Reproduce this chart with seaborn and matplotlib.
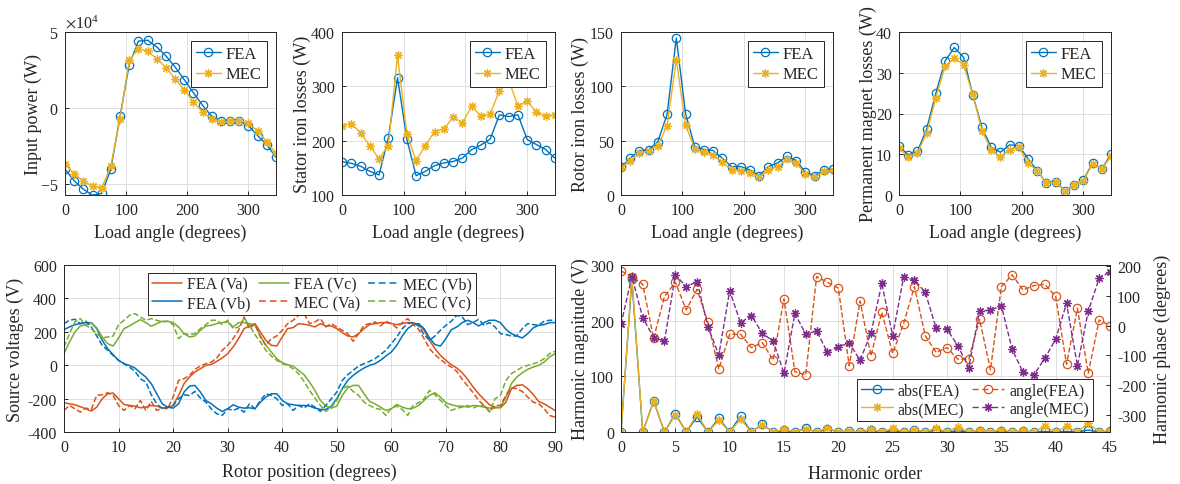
import numpy as np
import pandas as pd
import matplotlib
matplotlib.use("Agg")
import matplotlib.pyplot as plt
from matplotlib.lines import Line2D
import seaborn as sns

# ---------------------------------------------------------------- data
load_angle = np.arange(0, 346, 15)

input_power_fea = [-40000, -47700, -53200, -57100, -56000, -40000, -5300, 28600, 44000, 44600,
                   40200, 34300, 27000, 18700, 10100, 1800, -5300, -8600, -8600, -8100,
                   -11400, -18000, -24000, -32300]
input_power_mec = [-36700, -42900, -48100, -51000, -52300, -37800, -7000, 31400, 39100, 37400,
                   32500, 26600, 19300, 12100, 4000, -2600, -7000, -8800, -8600, -8100,
                   -9700, -15200, -22000, -29700]

stator_fea = [161.5, 158.4, 152.9, 143.6, 136.9, 205, 315.7, 203, 135.6, 143.6, 154, 159,
              161.5, 168, 183.6, 192, 203, 247.5, 244.4, 247.5, 202, 192.8, 183.6, 167.6]
stator_mec = [227.8, 231.5, 214.3, 191, 166.4, 191, 357, 212.5, 163.3, 191, 216.8, 221.7,
              243.2, 232.8, 263.5, 245, 249.4, 291.8, 312, 263.5, 272.7, 252.4, 245, 248]

rotor_fea = [25.5, 34.1, 40.9, 41.5, 49.2, 74.1, 144.4, 75, 44.6, 41.8, 40.9, 33.8,
             26.1, 26.1, 23, 17.8, 26.1, 29.5, 35.6, 31.7, 20.9, 17.8, 23, 24]
rotor_mec = [24.9, 31.7, 38.4, 40.9, 45.5, 63.9, 124.5, 64.5, 42.4, 39.3, 36.9, 30.1,
             23.4, 22.4, 20.3, 16.9, 23, 26.1, 33.2, 29.2, 19.4, 16.3, 21.8, 23]

magnet_fea = [12.1, 9.8, 10.7, 16.2, 25, 32.9, 36.2, 33.8, 24.6, 16.6, 11.7, 10.5,
              12.3, 12.1, 8.9, 6, 2.9, 3.3, 1, 2.5, 3.7, 7.8, 6.4, 10]
magnet_mec = [11.5, 9.3, 10.3, 15.2, 23.9, 31.6, 33.6, 32, 24.7, 15.8, 11.1, 9.4,
              11.1, 11.7, 7.8, 6, 2.9, 3.1, 1, 2.5, 3.5, 7.6, 6.4, 9.5]

rotor_position = np.arange(0, 91)

va_fea = [-225, -231, -237, -249, -261, -275, -251, -201, -171, -167, -201, -235, -241, -245, -255, -251,
          -241, -245, -255, -255, -241, -181, -111, -71, -41, -21, -1, 5, 23, 43, 69, 109, 159, 219, 235,
          249, 199, 149, 119, 115, 169, 219, 225, 249, 245, 239, 229, 249, 235, 235, 219, 195, 175, 169,
          189, 219, 243, 249, 255, 255, 249, 243, 249, 255, 255, 243, 209, 149, 99, 59, 29, 3, -17, -45,
          -85, -131, -171, -205, -237, -251, -255, -221, -141, -121, -117, -141, -175, -217, -231, -251,
          -271]
vb_fea = [213, 229, 243, 249, 255, 255, 219, 149, 99, 63, 29, 9, -1, -17, -45, -71, -111, -171, -231,
          -251, -257, -231, -161, -125, -121, -161, -211, -231, -257, -277, -261, -237, -251, -257, -255,
          -261, -221, -191, -171, -171, -211, -231, -237, -241, -241, -245, -257, -265, -265, -245, -201,
          -141, -91, -61, -37, -17, -1, 9, 29, 55, 79, 119, 175, 219, 243, 249, 219, 163, 123, 115, 159,
          213, 229, 255, 269, 255, 235, 255, 269, 269, 255, 215, 189, 175, 163, 189, 223, 239, 243, 255,
          255]
vc_fea = [69, 139, 199, 235, 243, 255, 223, 169, 129, 115, 163, 219, 235, 255, 273, 255, 233, 249, 263,
          263, 255, 229, 189, 169, 175, 209, 235, 239, 249, 255, 259, 229, 255, 255, 249, 239, 175, 119,
          79, 39, 15, 3, -5, -31, -57, -101, -151, -211, -245, -257, -245, -181, -137, -121, -121, -171,
          -217, -231, -251, -271, -261, -235, -251, -261, -257, -241, -211, -181, -165, -191, -225, -237,
          -245, -245, -251, -241, -245, -251, -257, -257, -251, -191, -111, -71, -45, -25, -11, -1, 19,
          49, 69]

va_mec = [-271, -241, -261, -281, -257, -265, -181, -177, -165, -181, -241, -271, -241, -261, -211, -271,
          -217, -271, -257, -261, -191, -91, -81, -61, -25, -5, 9, 19, 43, 89, 119, 159, 209, 289, 219,
          249, 169, 119, 159, 175, 209, 249, 269, 299, 309, 249, 259, 279, 229, 249, 229, 209, 189, 143,
          189, 239, 249, 259, 235, 263, 249, 223, 255, 279, 243, 215, 159, 99, 63, 35, 9, -11, -37, -85,
          -125, -165, -211, -241, -277, -241, -241, -181, -137, -141, -157, -191, -221, -231, -261, -301,
          -311]
vb_mec = [249, 269, 275, 249, 263, 229, 175, 119, 89, 59, 29, 9, -11, -37, -81, -101, -177, -231, -261,
          -251, -241, -201, -177, -181, -157, -197, -221, -261, -291, -301, -261, -271, -257, -281, -231,
          -261, -211, -171, -181, -201, -241, -231, -271, -241, -257, -231, -251, -277, -241, -201, -161,
          -91, -57, -31, -5, 9, 23, 39, 63, 89, 129, 169, 219, 249, 255, 235, 183, 149, 175, 209, 239,
          263, 299, 289, 243, 255, 275, 239, 255, 229, 189, 183, 175, 175, 219, 249, 243, 239, 263, 269,
          269]
vc_mec = [109, 189, 259, 279, 239, 219, 189, 163, 169, 175, 243, 269, 299, 309, 289, 269, 279, 269, 259,
          263, 243, 159, 189, 183, 189, 219, 243, 269, 269, 243, 269, 219, 229, 279, 239, 183, 139, 89,
          55, 29, 9, -1, -21, -51, -97, -151, -197, -241, -277, -251, -211, -141, -125, -157, -181, -221,
          -241, -257, -265, -301, -257, -245, -265, -301, -241, -225, -201, -151, -177, -211, -241, -271,
          -257, -251, -241, -257, -241, -241, -281, -201, -181, -91, -51, -31, -11, -1, 9, 19, 39, 69,
          83]

harmonic_order = np.arange(0, 46)

abs_fea = [0, 274, 0, 56, 0, 33, 0, 27, 0, 24.5, 0, 28.7, 0, 14, 0, 3, 0, 6.5, 0, 6, 0, 1.5, 0, 4,
           0, 2, 0, 3, 0, 4, 0, 2, 0, 1, 0, 1.5, 0, 1, 0, 1, 0, 1, 0, 3.5, 0, 1]
abs_mec = [0, 280, 0, 55, 0, 30.5, 0, 32, 0, 21, 0, 23, 0, 13, 0, 4.5, 0, 6, 0, 7, 0, 2.5, 0, 5,
           0, 6.5, 0, 4, 0, 7, 0, 9.5, 0, 3, 0, 4, 0, 3, 0, 11, 0, 10, 0, 16, 0, 3]
angle_fea = [184, 165, 139, -43, 98, 146, 53, 122, 11, -146, -29, -29, -74, -57, -116, 90,
             -155, -166, 165, 146, 126, -135, 83, -102, 45, -93, 6, 131, -34, -90, -74, -113,
             -113, 21, -149, 131, 171, 120, 135, 139, 98, -130, 58, -160, 19, 0]
angle_mec = [4.5, 165, 27, -40, -52, 171, 131, 148, -3, -99, 117, 10, 34, -26, -52, -160,
             41, -29, -18, -90, -71, -59, -116, -26, 142, -34, 162, 154, 112, -9, -12, -68,
             -141, 49, 52, 67, -80, -157, -166, -110, -46, 75, -135, 49, 159, 182]

# ---------------------------------------------------------------- style
BLUE, ORANGE, YELLOW, PURPLE, GREEN = "#0072BD", "#D95319", "#EDB120", "#7E2F8E", "#77AC30"
INK = "#262626"
ASTERISK = (8, 2, 0)
MS = 6.0
MEW = 0.9

sns.set_theme(style="whitegrid")
plt.rcParams.update({
    "font.family": ["Liberation Serif", "DejaVu Serif"],
    "mathtext.fontset": "stix",
    "axes.unicode_minus": False,
    "axes.edgecolor": INK,
    "axes.linewidth": 0.7,
    "axes.labelcolor": INK,
    "axes.labelsize": 13,
    "grid.color": "#dedede",
    "grid.linewidth": 0.7,
    "xtick.color": INK, "ytick.color": INK,
    "xtick.labelsize": 11.5, "ytick.labelsize": 11.5,
    "xtick.direction": "in", "ytick.direction": "in",
    "xtick.major.size": 3, "ytick.major.size": 3,
    "xtick.major.width": 0.7, "ytick.major.width": 0.7,
    "xtick.major.pad": 5, "ytick.major.pad": 5,
    "xtick.bottom": True, "ytick.left": True,
    "legend.fontsize": 12,
})

W, H = 1180, 485
fig = plt.figure(figsize=(W / 100, H / 100), dpi=100)


def add_axes(l, t, r, b):
    return fig.add_axes([l / W, 1 - b / H, (r - l) / W, (b - t) / H])


def boxed_legend(ax, handles, **kw):
    leg = ax.legend(handles=handles, fancybox=False, framealpha=1, edgecolor=INK,
                    **kw)
    leg.get_frame().set_linewidth(0.7)
    for t in leg.get_texts():
        t.set_color(INK)
    return leg


def comparison_panel(ax, fea, mec, ylabel, ylim, yticks, ylab_x):
    sns.lineplot(x=load_angle, y=fea, ax=ax, color=BLUE, lw=1.0, marker="o", ms=MS,
                 markerfacecolor="none", markeredgecolor=BLUE, markeredgewidth=MEW)
    sns.lineplot(x=load_angle, y=mec, ax=ax, color=YELLOW, lw=1.0, marker=ASTERISK, ms=MS,
                 markeredgecolor=YELLOW, markeredgewidth=MEW)
    ax.set_xlim(0, 345)
    ax.set_xticks([0, 100, 200, 300])
    ax.set_ylim(*ylim)
    ax.set_yticks(yticks)
    ax.set_xlabel("Load angle (degrees)")
    ax.set_ylabel(ylabel)
    ax.xaxis.set_label_coords(0.5, -0.175)
    ax.yaxis.set_label_coords(ylab_x, 0.5)
    handles = [
        Line2D([], [], color=BLUE, lw=1.0, marker="o", ms=MS, mfc="none", mec=BLUE, mew=MEW,
               label="FEA"),
        Line2D([], [], color=YELLOW, lw=1.0, marker=ASTERISK, ms=MS, mec=YELLOW, mew=MEW,
               label="MEC"),
    ]
    boxed_legend(ax, handles, loc="upper right", handlelength=1.5, handletextpad=0.3,
                 borderpad=0.3, labelspacing=0.25, borderaxespad=0.55)


# ---------------------------------------------------------------- top row
ax1 = add_axes(65, 33, 276, 196)
comparison_panel(ax1, input_power_fea, input_power_mec, "Input power (W)",
                 (-57000, 50000), [-50000, 0, 50000], -0.109)
ax1.ticklabel_format(axis="y", style="sci", scilimits=(0, 0), useMathText=True)
ax1.yaxis.get_offset_text().set_fontsize(11.5)

ax2 = add_axes(342, 33, 555, 196)
comparison_panel(ax2, stator_fea, stator_mec, "Stator iron losses (W)",
                 (100, 400), [100, 200, 300, 400], -0.146)

ax3 = add_axes(621, 33, 833, 196)
comparison_panel(ax3, rotor_fea, rotor_mec, "Rotor iron losses (W)",
                 (0, 150), [0, 50, 100, 150], -0.151)

ax4 = add_axes(899, 33, 1111, 196)
comparison_panel(ax4, magnet_fea, magnet_mec, "Permanent magnet losses (W)",
                 (0, 40), [0, 10, 20, 30, 40], -0.104)

# ---------------------------------------------------------------- source voltages
ax5 = add_axes(64, 266, 555, 433)
DASH = (4.5, 2.5)
series = [
    ("FEA (Va)", va_fea, ORANGE, "-"),
    ("FEA (Vb)", vb_fea, BLUE, "-"),
    ("FEA (Vc)", vc_fea, GREEN, "-"),
    ("MEC (Va)", va_mec, ORANGE, "--"),
    ("MEC (Vb)", vb_mec, BLUE, "--"),
    ("MEC (Vc)", vc_mec, GREEN, "--"),
]
handles = []
for name, vals, col, ls in series:
    kw = dict(dashes=DASH) if ls == "--" else {}
    sns.lineplot(x=rotor_position, y=vals, ax=ax5, color=col, lw=1.1, linestyle=ls, **kw)
    handles.append(Line2D([], [], color=col, lw=1.1, linestyle=ls, label=name, **kw))
ax5.set_xlim(0, 90)
ax5.set_xticks(range(0, 91, 10))
ax5.set_ylim(-400, 600)
ax5.set_yticks(range(-400, 601, 200))
ax5.set_xlabel("Rotor position (degrees)")
ax5.set_ylabel("Source voltages (V)")
ax5.xaxis.set_label_coords(0.5, -0.185)
ax5.yaxis.set_label_coords(-0.081, 0.5)
boxed_legend(ax5, handles, loc="upper left", bbox_to_anchor=(0.171, 0.955), ncol=3,
             fontsize=11.5, handlelength=1.9, handletextpad=0.3, columnspacing=0.5,
             borderpad=0.25, labelspacing=0.15, borderaxespad=0)

# ---------------------------------------------------------------- harmonics
ax6 = add_axes(621, 266, 1110, 433)
ax6b = ax6.twinx()
sns.lineplot(x=harmonic_order, y=abs_fea, ax=ax6, color=BLUE, lw=1.0, marker="o", ms=MS,
             markerfacecolor="none", markeredgecolor=BLUE, markeredgewidth=MEW)
sns.lineplot(x=harmonic_order, y=abs_mec, ax=ax6, color=YELLOW, lw=1.0, marker=ASTERISK, ms=MS,
             markeredgecolor=YELLOW, markeredgewidth=MEW)
sns.lineplot(x=harmonic_order, y=angle_fea, ax=ax6b, color=ORANGE, lw=1.0, linestyle="--",
             dashes=DASH, marker="o", ms=MS, markerfacecolor="none", markeredgecolor=ORANGE,
             markeredgewidth=MEW)
sns.lineplot(x=harmonic_order, y=angle_mec, ax=ax6b, color=PURPLE, lw=1.0, linestyle="--",
             dashes=DASH, marker=ASTERISK, ms=MS, markeredgecolor=PURPLE, markeredgewidth=MEW)
ax6.set_xlim(0, 45)
ax6.set_xticks(range(0, 46, 5))
ax6.set_ylim(0, 300)
ax6.set_yticks([0, 100, 200, 300])
ax6.set_xlabel("Harmonic order")
ax6.set_ylabel("Harmonic magnitude (V)")
ax6.xaxis.set_label_coords(0.5, -0.2)
ax6.yaxis.set_label_coords(-0.065, 0.5)
ax6b.set_ylim(-358, 204)
ax6b.set_yticks(range(-300, 201, 100))
ax6b.grid(False)
ax6b.tick_params(axis="y", direction="in", right=True, length=3, width=0.7, colors=INK,
                 labelsize=11.5, pad=5)
ax6b.set_ylabel("Harmonic phase (degrees)", color=INK, fontsize=13)
ax6b.yaxis.set_label_coords(1.09, 0.5)
for sp in ax6b.spines.values():
    sp.set_color(INK)
    sp.set_linewidth(0.7)
h6 = [
    Line2D([], [], color=BLUE, lw=1.0, marker="o", ms=MS, mfc="none", mec=BLUE, mew=MEW,
           label="abs(FEA)"),
    Line2D([], [], color=YELLOW, lw=1.0, marker=ASTERISK, ms=MS, mec=YELLOW, mew=MEW,
           label="abs(MEC)"),
    Line2D([], [], color=ORANGE, lw=1.0, ls="--", dashes=DASH, marker="o", ms=MS, mfc="none",
           mec=ORANGE, mew=MEW, label="angle(FEA)"),
    Line2D([], [], color=PURPLE, lw=1.0, ls="--", dashes=DASH, marker=ASTERISK, ms=MS,
           mec=PURPLE, mew=MEW, label="angle(MEC)"),
]
boxed_legend(ax6b, h6, loc="lower right", bbox_to_anchor=(0.965, 0.066), ncol=2,
             fontsize=11.5, handlelength=2.0, handletextpad=0.3, columnspacing=0.5,
             borderpad=0.25, labelspacing=0.15, borderaxespad=0)

fig.savefig("out.png", dpi=100)
